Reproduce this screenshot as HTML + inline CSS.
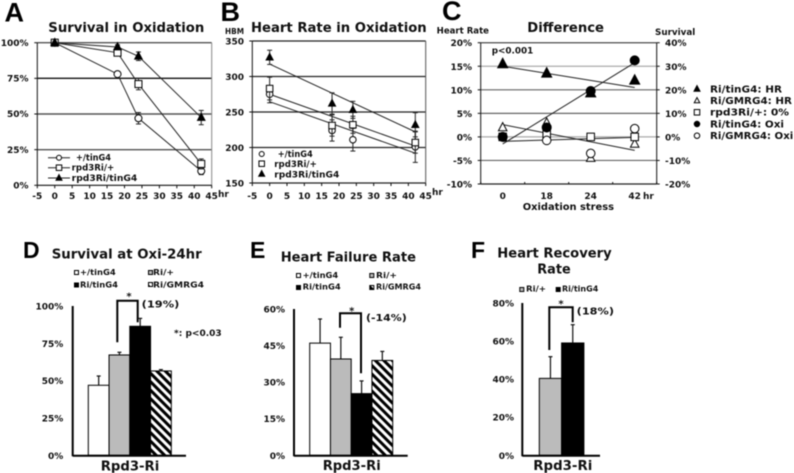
<!DOCTYPE html>
<html>
<head>
<meta charset="utf-8">
<title>Oxidation stress charts</title>
<style>
html,body{margin:0;padding:0;background:#fff;width:794px;height:473px;overflow:hidden}
svg{display:block;filter:blur(.4px)}
text{font-family:"DejaVu Sans","Liberation Sans",sans-serif;font-weight:bold;fill:#111}
.letter{font-family:"Liberation Sans",sans-serif;font-size:27px;fill:#000}
.letter2{font-family:"Liberation Sans",sans-serif;font-size:23px;fill:#000}
.title{font-size:13.5px}
.leg{font-size:8.5px}
.small{font-size:7.8px}
.note{font-size:10px}
.cat{font-size:13.5px}
</style>
</head>
<body>
<svg id="figure" xmlns="http://www.w3.org/2000/svg" width="794" height="473" viewBox="0 0 794 473">
<defs>
<pattern id="hatch" width="6" height="6" patternUnits="userSpaceOnUse" patternTransform="rotate(45)">
<rect width="6" height="6" fill="#fff"></rect>
<rect y="0" width="6" height="3" fill="#000"></rect>
</pattern>
</defs>
<rect width="794" height="473" fill="#fff"></rect>

<g id="panel-a">
<text class="letter" x="4.5" y="21.5">A</text>
<text class="title" x="48.3" y="32" textLength="156" lengthAdjust="spacingAndGlyphs">Survival in Oxidation</text>
<text style="font-size:9px" x="218" y="197">hr</text>
<text class="leg" x="76" y="160.7" textLength="35" lengthAdjust="spacingAndGlyphs">+/tinG4</text>
<text class="leg" x="71.7" y="170.7" textLength="42.5" lengthAdjust="spacingAndGlyphs">rpd3Ri/+</text>
<text class="leg" x="71.7" y="181" textLength="65.6" lengthAdjust="spacingAndGlyphs">rpd3Ri/tinG4</text>
</g>

<g id="panel-b">
<text class="letter" x="220.5" y="21">B</text>
<text class="title" x="251" y="32" textLength="175.7" lengthAdjust="spacingAndGlyphs">Heart Rate in Oxidation</text>
<text style="font-size:7.5px" x="225" y="34" textLength="19" lengthAdjust="spacingAndGlyphs">HBM</text>
<text style="font-size:9px" x="432" y="195">hr</text>
<text class="leg" x="277.7" y="157" textLength="35" lengthAdjust="spacingAndGlyphs">+/tinG4</text>
<text class="leg" x="274.3" y="167" textLength="42.5" lengthAdjust="spacingAndGlyphs">rpd3Ri/+</text>
<text class="leg" x="274.3" y="177.5" textLength="65" lengthAdjust="spacingAndGlyphs">rpd3Ri/tinG4</text>
</g>

<g id="panel-c">
<text class="letter" x="442" y="20">C</text>
<text class="title" x="527.3" y="32" textLength="76.7" lengthAdjust="spacingAndGlyphs">Difference</text>
<text style="font-size:8.5px" x="436.7" y="33.5" textLength="52.3" lengthAdjust="spacingAndGlyphs">Heart Rate</text>
<text style="font-size:8.5px" x="655" y="35" textLength="40.3" lengthAdjust="spacingAndGlyphs">Survival</text>
<text style="font-size:9px" x="491.7" y="53.3" textLength="41.6" lengthAdjust="spacingAndGlyphs">p&lt;0.001</text>
<text style="font-size:10px" x="522.7" y="210" textLength="91.3" lengthAdjust="spacingAndGlyphs">Oxidation stress</text>
<text style="font-size:9px" x="643" y="199">hr</text>
<text style="font-size:9.3px" x="710" y="92.5" textLength="72" lengthAdjust="spacingAndGlyphs">Ri/tinG4: HR</text>
<text style="font-size:9.3px" x="710" y="104" textLength="82" lengthAdjust="spacingAndGlyphs">Ri/GMRG4: HR</text>
<text style="font-size:9.3px" x="710" y="115.7" textLength="79" lengthAdjust="spacingAndGlyphs">rpd3Ri/+: 0%</text>
<text style="font-size:9.3px" x="710" y="127.3" textLength="74" lengthAdjust="spacingAndGlyphs">Ri/tinG4: Oxi</text>
<text style="font-size:9.3px" x="710" y="139" textLength="83.3" lengthAdjust="spacingAndGlyphs">Ri/GMRG4: Oxi</text>
</g>

<g id="panel-d">
<text class="letter2" x="23" y="258">D</text>
<text class="title" x="51.7" y="258.3" textLength="150" lengthAdjust="spacingAndGlyphs">Survival at Oxi-24hr</text>
<rect x="74.5" y="270.5" width="4" height="4" fill="#fff" stroke="#000"></rect>
<text class="small" x="80" y="275" textLength="35.7" lengthAdjust="spacingAndGlyphs">+/tinG4</text>
<rect x="148.5" y="270.5" width="4" height="4" fill="#bbb" stroke="#000"></rect>
<text class="small" x="153" y="275" textLength="21" lengthAdjust="spacingAndGlyphs">Ri/+</text>
<rect x="74" y="282.5" width="5" height="5" fill="#000"></rect>
<text class="small" x="80" y="287.3" textLength="38" lengthAdjust="spacingAndGlyphs">Ri/tinG4</text>
<rect x="148.5" y="282.5" width="4" height="4" fill="url(#hatch)" stroke="#000"></rect>
<text class="small" x="153" y="287.3" textLength="51" lengthAdjust="spacingAndGlyphs">Ri/GMRG4</text>
<path d="M117.3 342.3V300.7H137.7V322.3" fill="none" stroke="#000" stroke-width="2"></path>
<text class="note" x="129" y="299.6" text-anchor="middle">*</text>
<text class="note" x="141.7" y="307.7" textLength="37.6" lengthAdjust="spacingAndGlyphs">(19%)</text>
<text style="font-size:8.5px" x="174" y="336" textLength="47.7" lengthAdjust="spacingAndGlyphs">*: p&lt;0.03</text>
<text class="cat" x="100.7" y="470.5" textLength="58.6" lengthAdjust="spacingAndGlyphs">Rpd3-Ri</text>
</g>

<g id="panel-e">
<text class="letter2" x="250" y="258">E</text>
<text class="title" x="280.7" y="261.7" textLength="135.3" lengthAdjust="spacingAndGlyphs">Heart Failure Rate</text>
<rect x="296.5" y="273.5" width="4" height="4" fill="#fff" stroke="#000"></rect>
<text class="small" x="302.7" y="278" textLength="35.5" lengthAdjust="spacingAndGlyphs">+/tinG4</text>
<rect x="369.8" y="273.5" width="4" height="4" fill="#bbb" stroke="#000"></rect>
<text class="small" x="376" y="278" textLength="21" lengthAdjust="spacingAndGlyphs">Ri/+</text>
<rect x="296" y="285" width="5" height="5" fill="#000"></rect>
<text class="small" x="302.7" y="289.5" textLength="38" lengthAdjust="spacingAndGlyphs">Ri/tinG4</text>
<rect x="369.8" y="285.5" width="4" height="4" fill="url(#hatch)" stroke="#000"></rect>
<text class="small" x="376" y="289.5" textLength="45" lengthAdjust="spacingAndGlyphs">Ri/GMRG4</text>
<path d="M340 327.7V313.3H361V373.3" fill="none" stroke="#000" stroke-width="2"></path>
<text class="note" x="351.7" y="314" text-anchor="middle">*</text>
<text class="note" x="366" y="321" textLength="40.7" lengthAdjust="spacingAndGlyphs">(-14%)</text>
<text class="cat" x="322.7" y="470" textLength="58" lengthAdjust="spacingAndGlyphs">Rpd3-Ri</text>
</g>

<g id="panel-f">
<text class="letter2" x="471" y="258">F</text>
<text class="title" x="497.3" y="257.7" textLength="114.4" lengthAdjust="spacingAndGlyphs">Heart Recovery</text>
<text class="title" x="537.3" y="273.3" textLength="33.4" lengthAdjust="spacingAndGlyphs">Rate</text>
<rect x="519.8" y="287.5" width="4" height="4" fill="#bbb" stroke="#000"></rect>
<text class="small" x="526" y="291.7" textLength="20" lengthAdjust="spacingAndGlyphs">Ri/+</text>
<rect x="555.7" y="287" width="5" height="5" fill="#000"></rect>
<text class="small" x="562" y="291.7" textLength="36.3" lengthAdjust="spacingAndGlyphs">Ri/tinG4</text>
<path d="M549.3 350V307.3H572.7V322.3" fill="none" stroke="#000" stroke-width="2"></path>
<text class="note" x="561" y="307" text-anchor="middle">*</text>
<text class="note" x="576.7" y="314.3" textLength="37.3" lengthAdjust="spacingAndGlyphs">(18%)</text>
<text class="cat" x="533.3" y="470" textLength="59" lengthAdjust="spacingAndGlyphs">Rpd3-Ri</text>
</g>
</svg>

<script>
// Panel A data
const aHours = [0, 18, 24, 42];
const aPlus = [100, 78, 47, 10];
const aPlusErr = [0, 1, 4, 2.5];
const aRi = [100, 93, 71, 15];
const aRiErr = [0, 1, 4, 3.5];
const aTin = [100, 97, 90.5, 47.5];
const aTinErr = [0, 1.5, 3, 5];
const aXTicks = [-5, 0, 5, 10, 15, 20, 25, 30, 35, 40, 45];
const aYTicks = [0, 25, 50, 75, 100];

// Panel B data
const bHours = [0, 18, 24, 42];
const bPlus = [275, 224, 211, 201];
const bPlusErr = [12, 15, 16, 22];
const bRi = [283, 231, 232, 207];
const bRiErr = [16, 15, 12, 15];
const bTin = [327, 262, 253, 232];
const bTinErr = [10, 15, 12, 17];
const bPlusTrend = [264.5, 192];
const bRiTrend = [275, 202];
const bTinTrend = [317.5, 222];
const bXTicks = [-5, 0, 5, 10, 15, 20, 25, 30, 35, 40, 45];
const bYTicks = [150, 200, 250, 300, 350];

// Panel C data
const cCategories = ['0', '18', '24', '42'];
const cTinHr = [15.5, 13.5, 9.3, 12];
const cGmrHr = [2, 3, -4.5, -1.5];
const cRiZero = [0, 1, 0, 0];
const cTinOxi = [0, 4, 19.5, 32.5];
const cGmrOxi = [0, -1.5, -7, 3.5];
const cTinHrTrend = [15, 10.5];
const cGmrHrTrend = [2.6, -2.85];
const cRiZeroTrend = [-0.95, -0.1];
const cTinOxiTrend = [-1.5, 15.75];
const cLeftTicks = [-10, -5, 0, 5, 10, 15, 20];
const cRightTicks = [-20, -10, 0, 10, 20, 30, 40];

// Panels D, E, F data
const dValues = [46.9, 67.2, 86.4, 56.5];
const dErrors = [6.2, 1.8, 5.3, 0.9];
const dTicks = [0, 25, 50, 75, 100];
const eValues = [46, 39.5, 25.3, 38.9];
const eErrors = [9.9, 8.9, 5.2, 3.7];
const eTicks = [0, 15, 30, 45, 60];
const fValues = [40.4, 59];
const fErrors = [11.4, 9.6];
const fTicks = [0, 20, 40, 60, 80];

const NS = 'http://www.w3.org/2000/svg';
function mk(tag, attrs, parent) {
  const el = document.createElementNS(NS, tag);
  for (const k in attrs) el.setAttribute(k, attrs[k]);
  parent.appendChild(el);
  return el;
}
function scale(d0, d1, r0, r1) {
  return function (v) { return r0 + (v - d0) * (r1 - r0) / (d1 - d0); };
}
function line(p, x1, y1, x2, y2, color, w, name) {
  const el = mk('line', {x1: x1, y1: y1, x2: x2, y2: y2, stroke: color, 'stroke-width': w}, p);
  
  
  return el;
}
function label(p, txt, x, y, anchor, size, name) {
  const el = mk('text', {x: x, y: y, 'text-anchor': anchor, style: 'font-size:' + size + 'px'}, p);
  el.textContent = txt;
  
  
  return el;
}
function marker(p, type, cx, cy, s, name) {
  let el;
  const fill = type.endsWith('-f') ? '#000' : '#fff';
  if (type.startsWith('circle')) {
    el = mk('circle', {cx: cx, cy: cy, r: s / 2, fill: fill, stroke: '#000', 'stroke-width': 1}, p);
  } else if (type.startsWith('square')) {
    el = mk('rect', {x: cx - s / 2, y: cy - s / 2, width: s, height: s, fill: fill, stroke: '#000', 'stroke-width': 1}, p);
  } else {
    const h = s * 0.95;
    el = mk('polygon', {points: cx + ',' + (cy - h * 0.6) + ' ' + (cx + s / 2) + ',' + (cy + h * 0.4) + ' ' + (cx - s / 2) + ',' + (cy + h * 0.4), fill: fill, stroke: '#000', 'stroke-width': 1}, p);
  }
  
  
  return el;
}
function errorBar(p, x, y0, y1, name) {
  line(p, x, y0, x, y1, '#222', 1, name);
  line(p, x - 2.5, y0, x + 2.5, y0, '#222', 1, name + '-cap');
  line(p, x - 2.5, y1, x + 2.5, y1, '#222', 1, name + '-cap');
}

// Panel A
(function () {
  const g = document.getElementById('panel-a');
  const x = scale(-5, 45, 37.3, 211.7);
  const y = scale(0, 100, 185.3, 42.7);
  aYTicks.forEach(function (t) {
    if (t > 0) line(g, x(-5), y(t), x(45), y(t), t === 75 ? '#111' : '#555', 1.4, 'grid-line');
    line(g, x(-5) - 3, y(t), x(-5), y(t), '#111', 1, 'y-tick');
    label(g, t + '%', 28.5, y(t) + 3.2, 'end', 9, 'y-tick-label');
  });
  line(g, x(-5), y(0), x(-5), y(100), '#111', 1, 'y-axis');
  line(g, x(45), y(0), x(45), y(100), '#888', 1, 'right-border');
  line(g, x(-5), y(0), x(45), y(0), '#111', 1.2, 'x-axis');
  aXTicks.forEach(function (t) {
    line(g, x(t), y(0), x(t), y(0) + 3, '#111', 1, 'x-tick');
    label(g, String(t), x(t), 199, 'middle', 9, 'x-tick-label');
  });
  const series = [[aPlus, aPlusErr, 'circle-o', 7, 'plus-tin'], [aRi, aRiErr, 'square-o', 7, 'ri-plus'], [aTin, aTinErr, 'tri-f', 7.5, 'ri-tin']];
  series.forEach(function (s) {
    const pts = aHours.map(function (h, i) { return x(h) + ',' + y(s[0][i]); }).join(' ');
    const pl = mk('polyline', {points: pts, fill: 'none', stroke: '#222', 'stroke-width': 1}, g);
    
    
  });
  series.forEach(function (s) {
    aHours.forEach(function (h, i) {
      if (s[1][i] > 0) errorBar(g, x(h), y(s[0][i] - s[1][i]), y(s[0][i] + s[1][i]), 'error-bar');
      marker(g, s[2], x(h), y(s[0][i]), s[3], s[4] + '-point');
    });
  });
  [[157.7, 'circle-o', 5], [167.7, 'square-o', 5.5], [178, 'tri-f', 6]].forEach(function (l) {
    line(g, 48, l[0], 70, l[0], '#222', 1, 'legend-line');
    marker(g, l[1], 59, l[0], l[2], 'legend-marker');
  });
})();

// Panel B
(function () {
  const g = document.getElementById('panel-b');
  const x = scale(-5, 45, 252.3, 425.7);
  const y = scale(150, 350, 183, 41);
  bYTicks.forEach(function (t) {
    line(g, x(-5), y(t), x(45), y(t), '#222', 1.3, 'grid-line');
    line(g, x(-5) - 3, y(t), x(-5), y(t), '#111', 1, 'y-tick');
    label(g, String(t), 244, y(t) + 3.5, 'end', 9, 'y-tick-label');
  });
  line(g, x(-5), y(150), x(-5), y(350), '#111', 1, 'y-axis');
  line(g, x(45), y(150), x(45), y(350), '#555', 1, 'right-border');
  bXTicks.forEach(function (t) {
    line(g, x(t), y(150), x(t), y(150) + 3, '#111', 1, 'x-tick');
    label(g, String(t), x(t), 199, 'middle', 9, 'x-tick-label');
  });
  [bPlusTrend, bRiTrend, bTinTrend].forEach(function (tr) {
    line(g, x(0), y(tr[0]), x(42), y(tr[1]), '#222', 1, 'trend-line');
  });
  const series = [[bPlus, bPlusErr, 'circle-o', 6.5, 'plus-tin'], [bRi, bRiErr, 'square-o', 6.5, 'ri-plus'], [bTin, bTinErr, 'tri-f', 7, 'ri-tin']];
  series.forEach(function (s) {
    bHours.forEach(function (h, i) {
      errorBar(g, x(h), y(s[0][i] - s[1][i]), y(s[0][i] + s[1][i]), 'error-bar');
      marker(g, s[2], x(h), y(s[0][i]), s[3], s[4] + '-point');
    });
  });
  marker(g, 'circle-o', 261.7, 154, 5, 'legend-marker');
  marker(g, 'square-o', 261.7, 163.7, 5.5, 'legend-marker');
  marker(g, 'tri-f', 261.7, 174, 6, 'legend-marker');
})();

// Panel C
(function () {
  const g = document.getElementById('panel-c');
  const left = 480.7, band = 44;
  const x = function (i) { return left + band * (i + 0.5); };
  const yL = scale(-10, 20, 184, 42.7);
  const yR = scale(-20, 40, 184, 42.7);
  cLeftTicks.forEach(function (t) {
    if (t > -10 && t < 20) line(g, left, yL(t), left + band * 4, yL(t), (t === 15 || t === 0) ? '#aaa' : '#666', 1.2, 'grid-line');
    line(g, left - 3, yL(t), left, yL(t), '#111', 1, 'left-tick');
    label(g, t + '%', 472, yL(t) + 3.5, 'end', 9, 'left-tick-label');
  });
  line(g, left, yL(20), left + 176, yL(20), '#222', 1, 'top-border');
  line(g, left, yL(-10), left + 176, yL(-10), '#222', 1.3, 'x-axis');
  line(g, left, yL(-10), left, yL(20), '#111', 1, 'left-axis');
  line(g, left + 176, yL(-10), left + 176, yL(20), '#111', 1, 'right-axis');
  cRightTicks.forEach(function (t) {
    line(g, left + 176, yR(t), left + 179, yR(t), '#111', 1, 'right-tick');
    label(g, t + '%', 665, yR(t) + 3.5, 'start', 9, 'right-tick-label');
  });
  for (let i = 0; i <= 4; i++) line(g, left + band * i, yL(-10), left + band * i, yL(-10) - 2, '#111', 1, 'x-tick');
  cCategories.forEach(function (c, i) {
    label(g, c, x(i), 199, 'middle', 9, 'x-tick-label');
  });
  [cTinHrTrend, cGmrHrTrend, cRiZeroTrend, cTinOxiTrend].forEach(function (tr) {
    line(g, x(0), yL(tr[0]), x(3), yL(tr[1]), '#222', 1, 'trend-line');
  });
  cCategories.forEach(function (c, i) {
    marker(g, 'tri-o', x(i), yL(cGmrHr[i]), 8.5, 'ri-gmr-hr-point');
    marker(g, 'square-o', x(i), yR(cRiZero[i]), 7.5, 'ri-zero-point');
    marker(g, 'circle-o', x(i), yR(cGmrOxi[i]), 8.5, 'ri-gmr-oxi-point');
    marker(g, 'tri-f', x(i), yL(cTinHr[i]), 10, 'ri-tin-hr-point');
    marker(g, 'circle-f', x(i), yR(cTinOxi[i]), 9, 'ri-tin-oxi-point');
  });
  marker(g, 'tri-f', 697, 89, 6, 'legend-marker');
  marker(g, 'tri-o', 697, 100.7, 5.5, 'legend-marker');
  marker(g, 'square-o', 697, 112.3, 5.5, 'legend-marker');
  marker(g, 'circle-f', 697, 124, 5.5, 'legend-marker');
  marker(g, 'circle-o', 697, 135.7, 5.5, 'legend-marker');
})();

// Bar panels
function barPanel(id, values, errors, ticks, axisX, axisEnd, topY, firstBar, barW, fills, labelRight) {
  const g = document.getElementById(id);
  const y = scale(ticks[0], ticks[ticks.length - 1], 455.3, topY);
  values.forEach(function (v, i) {
    const bx = firstBar + barW * i;
    line(g, bx + barW / 2, y(v + errors[i]), bx + barW / 2, y(v), '#111', 1.2, 'error-bar');
    line(g, bx + barW / 2 - 2, y(v + errors[i]), bx + barW / 2 + 2, y(v + errors[i]), '#111', 1.2, 'error-bar-cap');
    const r = mk('rect', {x: bx, y: y(v), width: barW, height: 455.3 - y(v), fill: fills[i], stroke: '#000', 'stroke-width': 1}, g);
    
    
  });
  line(g, axisX, topY, axisX, 456.3, '#000', 2, 'y-axis');
  line(g, axisX, 455.8, axisEnd, 455.8, '#000', 2, 'x-axis');
  ticks.forEach(function (t) {
    label(g, t + '%', labelRight, y(t) + 3.5, 'end', 9, 'y-tick-label');
  });
}
barPanel('panel-d', dValues, dErrors, dTicks, 72.7, 186, 306, 88.3, 20.75, ['#fff', '#bbb', '#000', 'url(#hatch)'], 63.3);
barPanel('panel-e', eValues, eErrors, eTicks, 294, 407.7, 309, 309.7, 20.75, ['#fff', '#bbb', '#000', 'url(#hatch)'], 285);
barPanel('panel-f', fValues, fErrors, fTicks, 522.3, 600, 303, 539.3, 22.3, ['#bbb', '#000'], 514);
</script>
</body>
</html>
